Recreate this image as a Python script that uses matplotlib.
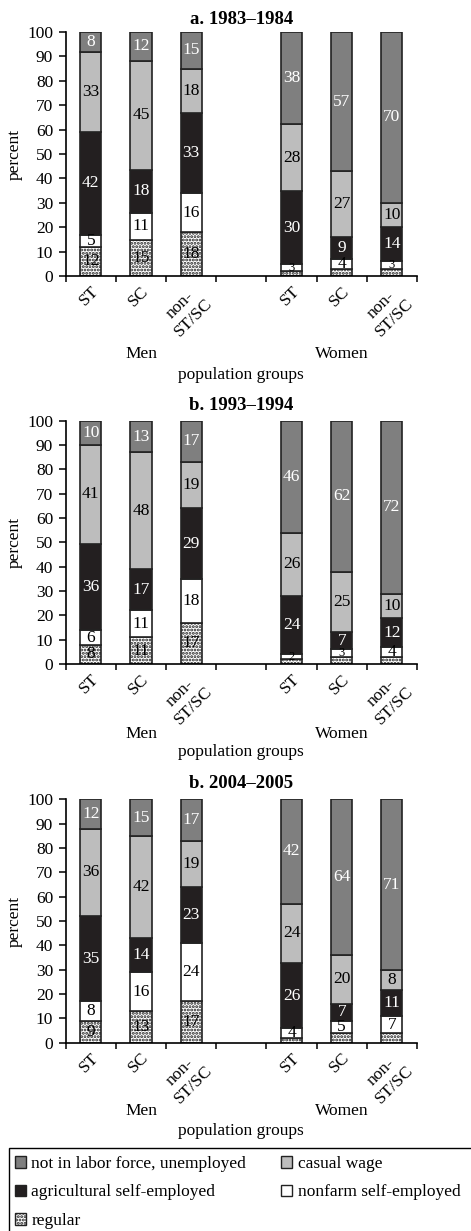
import matplotlib
matplotlib.use("Agg")
import matplotlib.pyplot as plt
from matplotlib.patches import Rectangle, Patch
import matplotlib.transforms as mtrans
import numpy as np

W, H = 471, 1231
plt.rcParams['font.family'] = ['Liberation Serif', 'DejaVu Serif']
plt.rcParams['hatch.linewidth'] = 1.4
plt.rcParams['hatch.color'] = '#222222'
FS = 12.5

# ---------------- data ----------------
groups = ['ST', 'SC', 'non-\nST/SC']
sexes = ['Men', 'Women']
panel_titles = ['a. 1983–1984', 'b. 1993–1994', 'b. 2004–2005']
series = ['not in labor force, unemployed', 'casual wage',
          'agricultural self-employed', 'nonfarm self-employed', 'regular']

# order within each list: Men ST, Men SC, Men non-ST/SC, Women ST, Women SC, Women non-ST/SC
regular_1983 = [12, 15, 18, 2, 3, 3]
nonfarm_1983 = [5, 11, 16, 3, 4, 3]
agri_1983 = [42, 18, 33, 30, 9, 14]
casual_1983 = [33, 45, 18, 28, 27, 10]
nilf_1983 = [8, 12, 15, 38, 57, 70]

regular_1993 = [8, 11, 17, 2, 3, 3]
nonfarm_1993 = [6, 11, 18, 2, 3, 4]
agri_1993 = [36, 17, 29, 24, 7, 12]
casual_1993 = [41, 48, 19, 26, 25, 10]
nilf_1993 = [10, 13, 17, 46, 62, 72]

regular_2004 = [9, 13, 17, 2, 4, 4]
nonfarm_2004 = [8, 16, 24, 4, 5, 7]
agri_2004 = [35, 14, 23, 26, 7, 11]
casual_2004 = [36, 42, 19, 24, 20, 8]
nilf_2004 = [12, 15, 17, 42, 64, 71]

panels = [
    (regular_1983, nonfarm_1983, agri_1983, casual_1983, nilf_1983),
    (regular_1993, nonfarm_1993, agri_1993, casual_1993, nilf_1993),
    (regular_2004, nonfarm_2004, agri_2004, casual_2004, nilf_2004),
]

# ---------------- styles ----------------
# stacking order bottom->top: regular, nonfarm, agri, casual, nilf
face = ['white', 'white', '#231f20', '#bdbdbd', '#7f7f7f']
HATCH = '.....'
hatches = [HATCH, None, None, None, None]
txtcol = ['black', 'black', 'white', 'black', 'white']
edge = '#222222'

xpos = np.array([0.5, 1.5, 2.5, 4.5, 5.5, 6.5])
barw = 0.42

fig = plt.figure(figsize=(W / 100, H / 100), dpi=100)

def fy(ypx):
    return 1 - ypx / H

left_px, right_px = 65.7, 417.0
axes_px = [(32.0, 276.0), (420.7, 664.0), (799.3, 1042.7)]
title_px = [19, 405, 784]
men_px = [354, 734, 1111]
pop_px = [375, 752, 1131]

for p, (vals, (top, bot)) in enumerate(zip(panels, axes_px)):
    ax = fig.add_axes([left_px / W, fy(bot), (right_px - left_px) / W, (bot - top) / H])
    data = np.array(vals, dtype=float)  # shape (5, 6)
    totals = data.sum(axis=0)
    heights = data / totals * 100
    bottom = np.zeros(6)
    for s in range(5):
        ax.bar(xpos, heights[s], barw, bottom=bottom, color=face[s],
               edgecolor=edge, linewidth=1.2, hatch=hatches[s], zorder=2)
        for i in range(6):
            if not (s == 0 and i >= 3):
                fs = FS if data[s][i] >= 4 else 9
                ax.text(xpos[i], bottom[i] + heights[s][i] / 2, str(int(data[s][i])),
                        ha='center', va='center', color=txtcol[s], fontsize=fs, zorder=3)
            bottom[i] += heights[s][i]
    ax.set_xlim(0, 7)
    ax.set_ylim(0, 100)
    ax.set_yticks(np.arange(0, 101, 10))
    ax.set_xticks(np.arange(0, 8, 1))
    ax.set_xticklabels([])
    ax.set_xticks(xpos, minor=True)
    ax.set_xticklabels(groups * 2, minor=True, rotation=45, ha='right',
                       va='top', rotation_mode='anchor', fontsize=FS,
                       multialignment='center')
    shift = mtrans.ScaledTranslation(-3 / 100, 0, fig.dpi_scale_trans)
    for lab in ax.get_xticklabels(minor=True):
        lab.set_transform(lab.get_transform() + shift)
    ax.tick_params(axis='x', which='minor', length=0, pad=5)
    ax.tick_params(axis='x', which='major', direction='out', length=4, width=1.1)
    ax.tick_params(axis='y', direction='out', length=5, width=1.1, labelsize=FS, pad=4)
    for sp in ['top', 'right']:
        ax.spines[sp].set_visible(False)
    for sp in ['left', 'bottom']:
        ax.spines[sp].set_linewidth(1.2)
    ax.set_ylabel('percent', fontsize=FS, labelpad=3)
    cx = (left_px + right_px) / 2
    fig.text(cx / W, fy(title_px[p]), panel_titles[p], ha='center', va='center',
             fontsize=13.5, fontweight='bold')
    slot = (right_px - left_px) / 7
    fig.text((left_px + 1.5 * slot) / W, fy(men_px[p]), sexes[0], ha='center',
             va='center', fontsize=FS)
    fig.text((left_px + 5.5 * slot) / W, fy(men_px[p]), sexes[1], ha='center',
             va='center', fontsize=FS)
    fig.text(cx / W, fy(pop_px[p]), 'population groups', ha='center',
             va='center', fontsize=FS)

# legend box
fig.patches.append(Rectangle((9 / W, fy(1240)), 480 / W, (1240 - 1148) / H,
                             transform=fig.transFigure, fill=False,
                             edgecolor='black', linewidth=1.0))
handles = [Patch(facecolor=face[4], edgecolor=edge),
           Patch(facecolor=face[2], edgecolor=edge),
           Patch(facecolor='white', edgecolor=edge, hatch=HATCH),
           Patch(facecolor=face[3], edgecolor=edge),
           Patch(facecolor='white', edgecolor=edge)]
labels = [series[0], series[2], series[4], series[1], series[3]]
fig.legend(handles, labels, loc='upper left', bbox_to_anchor=(15 / W, fy(1156)),
           bbox_transform=fig.transFigure, ncol=2, frameon=False,
           fontsize=FS, handlelength=0.65, handleheight=0.65, handletextpad=0.3,
           columnspacing=2.0, labelspacing=0.72, borderpad=0, borderaxespad=0)

fig.savefig('out.png', dpi=100)
